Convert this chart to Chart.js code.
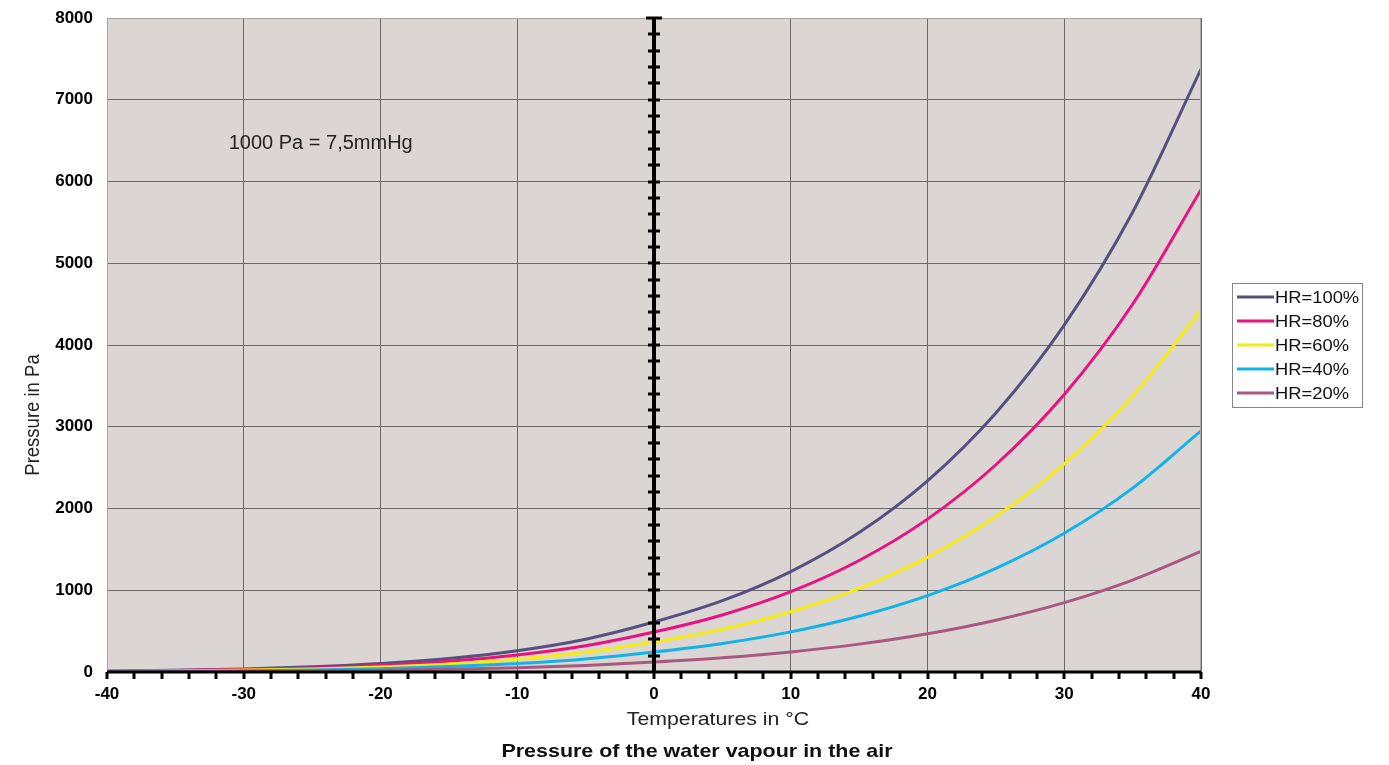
<!DOCTYPE html>
<html>
<head>
<meta charset="utf-8">
<script src="https://cdn.jsdelivr.net/npm/chart.js@4.4.1/dist/chart.umd.min.js"></script>
<style>
  html, body { margin: 0; padding: 0; background: #fff; }
  #wrap { width: 1389px; height: 765px; position: relative; }
</style>
</head>
<body>
<div id="wrap"><canvas id="chart" width="1389" height="765"></canvas></div>
<script>
// DATA
const temps = [-40, -35, -30, -25, -20, -15, -10, -5, 0, 5, 10, 15, 20, 25, 30, 35, 40];
const hr100 = [13, 22, 38, 63, 103, 165, 260, 401, 611, 872, 1228, 1705, 2338, 3169, 4243, 5623, 7375];
const hr80  = [10, 18, 30, 50, 82, 132, 208, 321, 489, 698, 982, 1364, 1870, 2535, 3394, 4498, 5900];
const hr60  = [8, 13, 23, 38, 62, 99, 156, 241, 367, 523, 737, 1023, 1403, 1901, 2546, 3374, 4425];
const hr40  = [5, 9, 15, 25, 41, 66, 104, 160, 244, 349, 491, 682, 935, 1268, 1697, 2249, 2950];
const hr20  = [3, 4, 8, 13, 21, 33, 52, 80, 122, 174, 246, 341, 468, 634, 849, 1125, 1475];

const seriesLabels = ['HR=100%', 'HR=80%', 'HR=60%', 'HR=40%', 'HR=20%'];
const seriesColors = ['#56507f', '#e8137f', '#f6ec15', '#13b3ea', '#a9587f'];
const seriesData = [hr100, hr80, hr60, hr40, hr20];

const noteText = '1000 Pa = 7,5mmHg';
const noteAt = { x: -31.1, y: 6470 };
const chartTitle = 'Pressure of the water vapour in the air';
const xTitle = 'Temperatures in °C';
const yTitle = 'Pressure in Pa';

const FONT = 'Arial, "Liberation Sans", sans-serif';

// text stretched horizontally (the reference glyphs are wider than Arial)
function wideText(ctx, text, x, y, sx) {
  ctx.save();
  ctx.translate(x, y);
  ctx.scale(sx, 1);
  ctx.fillText(text, 0, 0);
  ctx.restore();
}

// plot background, zero line, minor ticks, texts, legend
const plotBg = {
  id: 'plotBg',
  beforeDraw(chart) {
    const { ctx, chartArea: a } = chart;
    ctx.save();
    ctx.fillStyle = '#dbd6d4';
    ctx.fillRect(a.left, a.top, a.right - a.left, a.bottom - a.top);
    ctx.restore();
  },
  afterDatasetsDraw(chart) {
    const { ctx, chartArea: a, scales } = chart;
    const x = scales.x, y = scales.y;
    ctx.save();
    // border
    ctx.strokeStyle = '#a8a4a3';
    ctx.lineWidth = 1;
    ctx.beginPath();
    ctx.moveTo(a.left + 0.5, a.bottom);
    ctx.lineTo(a.left + 0.5, a.top + 0.5);
    ctx.lineTo(a.right - 0.5, a.top + 0.5);
    ctx.lineTo(a.right - 0.5, a.bottom);
    ctx.stroke();

    // zero line with cross ticks every 200 Pa
    const x0 = Math.round(x.getPixelForValue(0));
    ctx.strokeStyle = '#000';
    ctx.lineWidth = 4;
    ctx.beginPath();
    ctx.moveTo(x0, a.top);
    ctx.lineTo(x0, a.bottom);
    ctx.stroke();
    ctx.lineWidth = 3;
    for (let v = 200; v <= 8000; v += 200) {
      const py = Math.round(y.getPixelForValue(v));
      const w = v === 8000 ? 8 : 6;
      ctx.beginPath();
      ctx.moveTo(x0 - w, py);
      ctx.lineTo(x0 + w, py);
      ctx.stroke();
    }

    // bottom axis with minor ticks every 2 degrees
    ctx.lineWidth = 3;
    ctx.beginPath();
    ctx.moveTo(a.left, a.bottom);
    ctx.lineTo(a.right, a.bottom);
    ctx.stroke();
    for (let t = -40; t <= 40; t += 2) {
      const px = Math.round(x.getPixelForValue(t));
      ctx.beginPath();
      ctx.moveTo(px, a.bottom);
      ctx.lineTo(px, a.bottom + 7);
      ctx.stroke();
    }

    // note text
    ctx.fillStyle = '#222';
    ctx.font = '20px ' + FONT;
    ctx.textAlign = 'left';
    ctx.textBaseline = 'middle';
    ctx.fillText(noteText, x.getPixelForValue(noteAt.x), y.getPixelForValue(noteAt.y));

    // axis titles
    ctx.font = '18.5px ' + FONT;
    ctx.textAlign = 'center';
    wideText(ctx, xTitle, 718, 720, 1.15);
    ctx.save();
    ctx.translate(33, 415);
    ctx.rotate(-Math.PI / 2);
    ctx.scale(1, 1.12);
    ctx.fillText(yTitle, 0, 0);
    ctx.restore();

    // title at bottom
    ctx.fillStyle = '#111';
    ctx.font = 'bold 18.5px ' + FONT;
    wideText(ctx, chartTitle, 697, 752, 1.16);

    // legend box
    const lx = 1232, ly = 283, lw = 130, lh = 124;
    ctx.fillStyle = '#fff';
    ctx.fillRect(lx, ly, lw, lh);
    ctx.strokeStyle = '#888';
    ctx.lineWidth = 1;
    ctx.strokeRect(lx + 0.5, ly + 0.5, lw, lh);
    ctx.font = '17px ' + FONT;
    ctx.textAlign = 'left';
    ctx.textBaseline = 'middle';
    chart.data.datasets.forEach((ds, i) => {
      const cy = ly + 14 + i * 24;
      ctx.strokeStyle = ds.borderColor;
      ctx.lineWidth = 3;
      ctx.beginPath();
      ctx.moveTo(lx + 5, cy);
      ctx.lineTo(lx + 42, cy);
      ctx.stroke();
      ctx.fillStyle = '#111';
      wideText(ctx, ds.label, lx + 43, cy + 1, 1.08);
    });
    ctx.restore();
  }
};

const ctx = document.getElementById('chart').getContext('2d');
const chart = new Chart(ctx, {
  type: 'line',
  data: {
    datasets: seriesData.map((vals, i) => ({
      label: seriesLabels[i],
      data: temps.map((t, j) => ({ x: t, y: vals[j] })),
      borderColor: seriesColors[i],
      backgroundColor: seriesColors[i],
      borderWidth: 3,
      pointRadius: 0,
      cubicInterpolationMode: 'monotone',
      fill: false,
      order: 4 - i
    }))
  },
  options: {
    responsive: false,
    animation: false,
    layout: { padding: { left: 0, right: 188, top: 18, bottom: 0 } },
    scales: {
      x: {
        type: 'linear',
        min: -40, max: 40,
        afterFit(s) { s.height = 93; s.paddingLeft = 0; s.paddingRight = 0; },
        ticks: { stepSize: 10, color: '#000', font: { family: FONT, size: 17, weight: 'bold' }, padding: 12,
                 callback: v => String(v) },
        grid: { color: '#6e6a69', lineWidth: 1, drawTicks: false },
        border: { display: false }
      },
      y: {
        min: 0, max: 8000,
        afterFit(s) { s.width = 107; s.paddingTop = 0; s.paddingBottom = 0; },
        ticks: { stepSize: 1000, color: '#000', font: { family: FONT, size: 17, weight: 'bold' }, padding: 14,
                 callback: v => String(v) },
        grid: { color: '#6e6a69', lineWidth: 1, drawTicks: false },
        border: { display: false }
      }
    },
    plugins: {
      legend: { display: false },
      tooltip: { enabled: false }
    }
  },
  plugins: [plotBg]
});
</script>
</body>
</html>
